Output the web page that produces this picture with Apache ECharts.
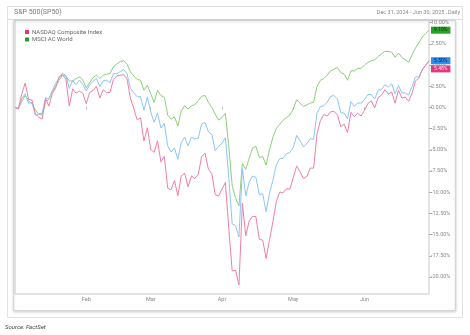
<!DOCTYPE html>
<html><head><meta charset="utf-8">
<script src="https://cdn.jsdelivr.net/npm/echarts@6/dist/echarts.min.js"></script>
<style>html,body{margin:0;padding:0;background:#fff}#c{width:470px;height:335px}</style>
</head><body><div id="c"></div>
<script>
const dates = [
'12-31',
'01-02','01-03','01-06','01-07','01-08','01-10','01-13','01-14','01-15','01-16','01-17','01-21','01-22','01-23','01-24','01-27','01-28','01-29','01-30','01-31',
'02-03','02-04','02-05','02-06','02-07','02-10','02-11','02-12','02-13','02-14','02-18','02-19','02-20','02-21','02-24','02-25','02-26','02-27','02-28',
'03-03','03-04','03-05','03-06','03-07','03-10','03-11','03-12','03-13','03-14','03-17','03-18','03-19','03-20','03-21','03-24','03-25','03-26','03-27','03-28','03-31',
'04-01','04-02','04-03','04-04','04-07','04-08','04-09','04-10','04-11','04-14','04-15','04-16','04-17','04-21','04-22','04-23','04-24','04-25','04-28','04-29','04-30',
'05-01','05-02','05-05','05-06','05-07','05-08','05-09','05-12','05-13','05-14','05-15','05-16','05-19','05-20','05-21','05-22','05-23','05-27','05-28','05-29','05-30',
'06-02','06-03','06-04','06-05','06-06','06-09','06-10','06-11','06-12','06-13','06-16','06-17','06-18','06-20','06-23','06-24','06-25','06-26','06-27','06-30'];

const monthLabels = {'02':'Feb','03':'Mar','04':'Apr','05':'May','06':'Jun'};

const nasdaq = [0,
-0.16,1.61,2.87,0.93,0.87,-0.77,-1.15,-1.38,1.04,0.14,1.65,2.31,3.62,3.85,3.33,0.16,2.19,1.67,1.92,1.64,
0.42,1.78,1.98,2.49,1.10,2.09,1.72,1.76,3.29,3.71,3.78,3.86,3.37,1.10,-0.12,-1.47,-1.22,-3.97,-2.40,
-4.97,-5.31,-3.93,-6.43,-5.77,-9.54,-9.71,-8.61,-10.40,-8.06,-7.78,-9.36,-8.08,-8.38,-7.90,-5.81,-5.38,-7.31,-7.80,-10.29,-10.42,
-9.64,-8.85,-14.29,-19.28,-19.20,-20.94,-11.32,-15.14,-13.39,-12.84,-12.88,-15.55,-15.66,-17.81,-15.59,-13.48,-11.11,-9.98,-10.07,-9.58,-9.65,
-8.29,-6.90,-7.59,-8.40,-8.14,-7.16,-7.16,-3.12,-1.56,-0.85,-1.03,-0.52,-0.49,-0.87,-2.27,-1.99,-2.97,-0.58,-1.09,-0.70,-1.02,
-0.35,0.46,0.78,-0.06,1.14,1.45,2.09,1.58,1.82,0.50,2.02,1.09,1.22,0.71,1.66,3.12,3.43,4.44,4.98,5.48];

const sp500 = [0,
-0.22,1.03,1.60,0.47,0.62,-0.93,-0.77,-0.66,1.16,0.95,1.96,2.85,3.48,4.03,3.73,2.22,3.16,2.68,3.22,2.70,
1.92,2.66,3.06,3.43,2.45,3.14,3.18,2.90,3.97,3.96,4.22,4.46,4.01,2.24,1.73,1.25,1.27,-0.34,1.24,
-0.54,-1.76,-0.66,-2.43,-1.89,-4.54,-5.26,-4.80,-6.12,-4.13,-3.51,-4.54,-3.51,-3.72,-3.64,-1.94,-1.79,-2.88,-3.20,-5.11,-4.59,
-4.23,-3.58,-8.25,-13.73,-13.93,-15.28,-7.22,-10.43,-8.81,-8.09,-8.25,-10.30,-10.18,-12.30,-10.10,-8.60,-6.75,-6.06,-6.00,-5.45,-5.32,
-4.72,-3.31,-3.93,-4.67,-4.26,-3.70,-3.77,-0.64,0.08,0.19,0.60,1.30,1.39,1.00,-0.63,-0.67,-1.34,0.68,0.12,0.52,0.51,
0.92,1.51,1.52,0.98,2.02,2.11,2.67,2.39,2.78,1.62,2.58,1.72,1.69,1.47,2.44,3.58,3.58,4.41,4.95,5.50];

const msciAcw = [0,
-0.15,0.7,1.4,0.8,0.4,-0.3,-0.8,-0.9,0.6,1.0,1.8,2.5,3.2,3.8,3.7,3.1,3.1,3.4,3.6,3.2,
2.3,2.9,3.5,3.8,3.4,3.8,3.9,4.0,4.8,5.1,5.4,5.5,5.1,4.2,3.7,3.3,3.2,2.0,2.6,
1.6,0.6,2.0,1.4,1.2,-0.9,-1.4,-1.1,-2.2,-0.4,0.2,-0.2,0.2,0.3,0.8,1.3,1.4,0.6,0.0,-0.8,-1.5,
-1.2,-0.7,-4.6,-9.2,-10.7,-11.6,-6.6,-7.3,-6.0,-4.8,-4.6,-5.9,-5.8,-6.8,-5.0,-3.5,-2.5,-2.0,-1.5,-1.2,-0.9,
-0.2,0.9,0.5,0.1,0.3,0.5,0.6,2.5,3.2,3.4,3.8,4.3,4.5,4.7,4.1,3.9,3.2,4.3,4.3,4.6,4.6,
5.0,5.3,5.5,5.6,6.0,6.3,6.6,6.6,6.5,5.9,6.4,5.9,5.6,5.3,6.2,7.0,7.6,8.3,8.7,9.1];

const yTicks = [-20,-17.5,-15,-12.5,-10,-7.5,-5,-2.5,0,2.5,5,7.5,10];

const isMonthStart = (i) => i > 1 && dates[i].slice(0,2) !== dates[i-1].slice(0,2);

const chart = echarts.init(document.getElementById('c'), null, {renderer:'canvas'});
const FONT = 'Roboto, "Open Sans", Arial, sans-serif';

function endLbl(bg, fg, dy){
  return {show:true, distance:2, offset:[0,dy], fontSize:5, fontFamily:FONT, color:fg,
    backgroundColor:bg, padding:[1,3,0,3], lineHeight:6,
    formatter:(p)=> p.value.toFixed(2)+'%'};
}

chart.setOption({
  animation:false,
  textStyle:{fontFamily:FONT},
  graphic:[
    {type:'rect', z:-10, shape:{x:7.5,y:6.5,width:455,height:311}, style:{fill:'#fff', stroke:'#e2e2e2', lineWidth:1}},
    {type:'line', z:-9, shape:{x1:7.5,y1:19.5,x2:462.5,y2:19.5}, style:{stroke:'#dcdcdc', lineWidth:1}},
    {type:'rect', z:-8, shape:{x:13.5,y:20.5,width:442,height:290}, style:{fill:'#fff', stroke:'#d6d6d6', lineWidth:1, shadowBlur:3, shadowColor:'rgba(0,0,0,0.18)', shadowOffsetY:1}},
    {type:'text', left:14, top:9, style:{text:'S&P 500(SP50)', font:'7px '+FONT, fill:'#7a7a7a'}},
    {type:'text', right:10, top:10, style:{text:'Dec 31, 2024 - Jun 30, 2025 , Daily', font:'5.5px '+FONT, fill:'#888'}},
    {type:'text', left:5, top:324, style:{text:'Source: FactSet', font:'italic 6px '+FONT, fill:'#444'}}
  ],
  legend:{
    data:['NASDAQ Composite Index','MSCI AC World'],
    orient:'vertical', left:20, top:24, itemWidth:4, itemHeight:4, itemGap:1.5,
    icon:'rect', textStyle:{fontSize:6, color:'#666', padding:[0,0,0,-2]}
  },
  grid:{left:15, right:41, top:20, bottom:41, show:true, borderColor:'#c8c8c8', borderWidth:1, backgroundColor:'transparent'},
  xAxis:{
    type:'category', data:dates, boundaryGap:false,
    axisLine:{show:false},
    axisTick:{show:true, interval:(i)=>isMonthStart(i), length:2, lineStyle:{color:'#b0b0b0'}},
    axisLabel:{interval:(i)=>isMonthStart(i), formatter:(v)=>monthLabels[v.slice(0,2)]||'', fontSize:5.5, color:'#888', margin:3},
    splitLine:{show:false}
  },
  yAxis:{
    type:'value', position:'right', min:-22, max:10.3,
    axisLine:{show:false},
    axisTick:{show:true, customValues:yTicks, length:3, lineStyle:{color:'#b0b0b0'}},
    axisLabel:{customValues:yTicks, formatter:(v)=>v.toFixed(2)+'%', fontSize:5.5, color:'#888', margin:2},
    splitLine:{show:false}
  },
  series:[
    {name:'MSCI AC World', type:'line', data:msciAcw, symbol:'none', color:'#22a022',
      lineStyle:{color:'#8ccf7c', width:1}, endLabel:endLbl('#27a327','#0c2a0c',0)},
    {name:'S&P 500', type:'line', data:sp500, symbol:'none', color:'#2b8ff0',
      lineStyle:{color:'#8dc5f7', width:1}, endLabel:endLbl('#2b8ff0','#0b2240',0)},
    {name:'NASDAQ Composite Index', type:'line', data:nasdaq, symbol:'none', color:'#e8336d',
      lineStyle:{color:'#ef7fa6', width:1}, endLabel:endLbl('#e6367c','#fde6ee',8)}
  ]
});
</script></body></html>
